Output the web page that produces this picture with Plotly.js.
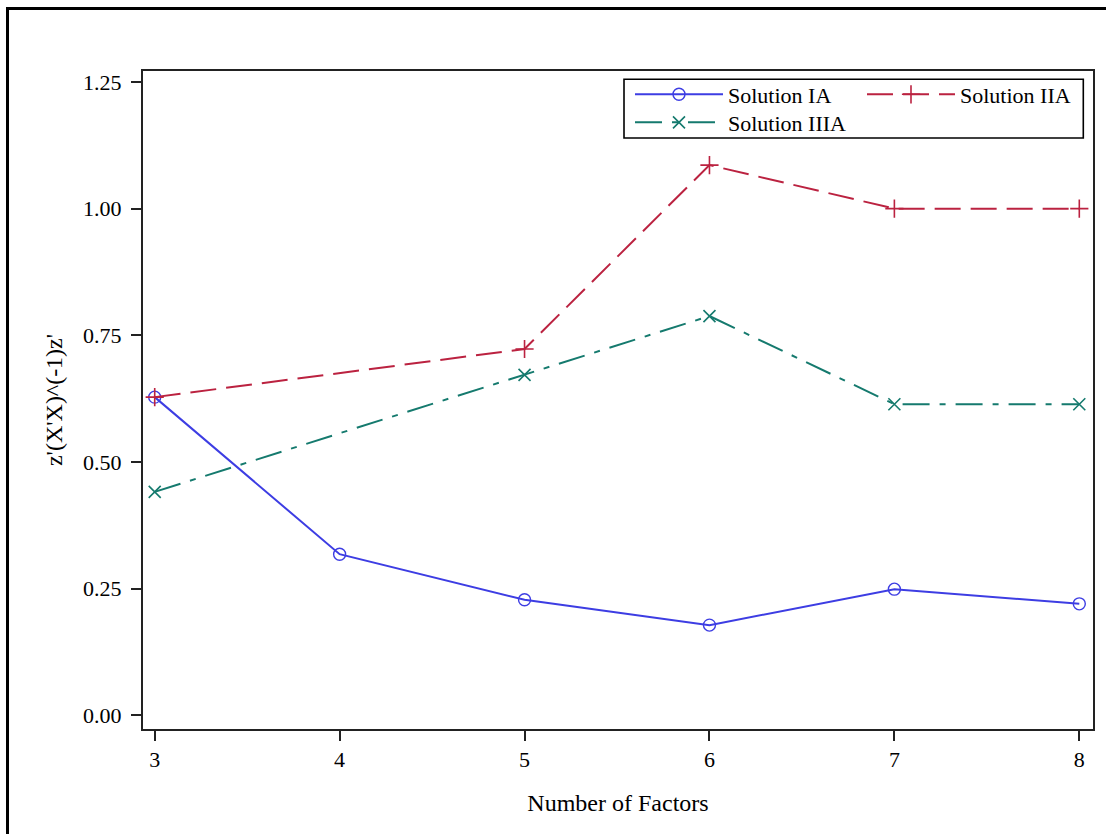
<!DOCTYPE html>
<html>
<head>
<meta charset="utf-8">
<script src="https://cdn.plot.ly/plotly-3.0.1.min.js"></script>
<style>
  html, body { margin: 0; padding: 0; background: #fff; overflow: hidden; }
  #wrap { position: relative; width: 1106px; height: 834px; }
  #chart { position: absolute; left: 0; top: 0; width: 1106px; height: 834px; }
  #frame { position: absolute; left: 6px; top: 7px; width: 1300px; height: 1000px;
           border-left: 3px solid #000; border-top: 3px solid #000; pointer-events: none; }
</style>
</head>
<body>
<div id="wrap"><div id="chart"></div><div id="frame"></div></div>
<script>
// Number of factors on the x axis
const factorsIA = [3, 4, 5, 6, 7, 8];
const factorsIIA = [3, 5, 6, 7, 8];
const factorsIIIA = [3, 5, 6, 7, 8];

// z'(X'X)^(-1)z' for each solution
const solutionIA = [0.628, 0.318, 0.228, 0.178, 0.249, 0.220];
const solutionIIA = [0.628, 0.723, 1.086, 1.0, 1.0];
const solutionIIIA = [0.441, 0.672, 0.788, 0.614, 0.614];

const xTickVals = [3, 4, 5, 6, 7, 8];
const yTickVals = [0, 0.25, 0.5, 0.75, 1.0, 1.25];

const serif = "'Liberation Serif', 'Times New Roman', serif";
const blue = '#3d3de3';
const red = '#bb2240';
const green = '#157a6e';

const traces = [
  {
    x: factorsIA, y: solutionIA, name: 'Solution IA', type: 'scatter', mode: 'lines+markers',
    line: { color: blue, width: 2 },
    marker: { symbol: 'circle-open', size: 12, color: blue, line: { width: 1.4, color: blue } },
    legend: 'legend', cliponaxis: false
  },
  {
    x: factorsIIA, y: solutionIIA, name: 'Solution IIA', type: 'scatter', mode: 'lines+markers',
    line: { color: red, width: 2, dash: '26px,10px' },
    marker: { symbol: 'cross-thin-open', size: 13, color: red, line: { width: 1.6, color: red } },
    legend: 'legend2', cliponaxis: false
  },
  {
    x: factorsIIIA, y: solutionIIIA, name: 'Solution IIIA', type: 'scatter', mode: 'lines+markers',
    line: { color: green, width: 2, dash: '27px,10px,6px,10px' },
    marker: { symbol: 'x-thin-open', size: 12, color: green, line: { width: 1.6, color: green } },
    legend: 'legend3', cliponaxis: false
  }
];

const legendBase = {
  orientation: 'v', xanchor: 'left', yanchor: 'middle',
  bgcolor: 'rgba(0,0,0,0)', borderwidth: 0, itemwidth: 88,
  font: { family: serif, size: 22, color: '#000' }
};

const layout = {
  width: 1106, height: 834,
  margin: { l: 143, r: 13, t: 71, b: 105, autoexpand: false },
  paper_bgcolor: '#fff', plot_bgcolor: '#fff',
  font: { family: serif, size: 22, color: '#000' },
  xaxis: {
    range: [2.9367, 8.0741], tickmode: 'array', tickvals: xTickVals,
    ticks: 'outside', ticklen: 10, tickwidth: 2, tickcolor: '#222',
    showline: true, mirror: true, linewidth: 2, linecolor: '#222',
    showgrid: false, zeroline: false,
    tickfont: { family: serif, size: 22, color: '#000' },
    title: { text: 'Number of Factors', font: { family: serif, size: 24, color: '#000' }, standoff: 23 }
  },
  yaxis: {
    range: [-0.02704, 1.27171], tickmode: 'array', tickvals: yTickVals, tickformat: '.2f',
    ticks: 'outside', ticklen: 10, tickwidth: 2, tickcolor: '#222', ticklabelstandoff: 5,
    showline: true, mirror: true, linewidth: 2, linecolor: '#222',
    showgrid: false, zeroline: false,
    tickfont: { family: serif, size: 22, color: '#000' },
    title: { text: "z'(X'X)^(-1)z'", font: { family: serif, size: 24, color: '#000' }, standoff: 14 }
  },
  legend: Object.assign({}, legendBase, { x: 0.51263, y: 0.9643 }),
  legend2: Object.assign({}, legendBase, { x: 0.75684, y: 0.9643 }),
  legend3: Object.assign({}, legendBase, { x: 0.51263, y: 0.9217 }),
  shapes: [
    {
      type: 'rect', xref: 'paper', yref: 'paper',
      x0: 0.50632, x1: 0.98979, y0: 0.89818, y1: 0.98739,
      line: { color: '#000', width: 1.6 }, fillcolor: 'rgba(0,0,0,0)', layer: 'above'
    }
  ],
  showlegend: true
};

Plotly.newPlot('chart', traces, layout, { displayModeBar: false, staticPlot: true });
</script>
</body>
</html>
